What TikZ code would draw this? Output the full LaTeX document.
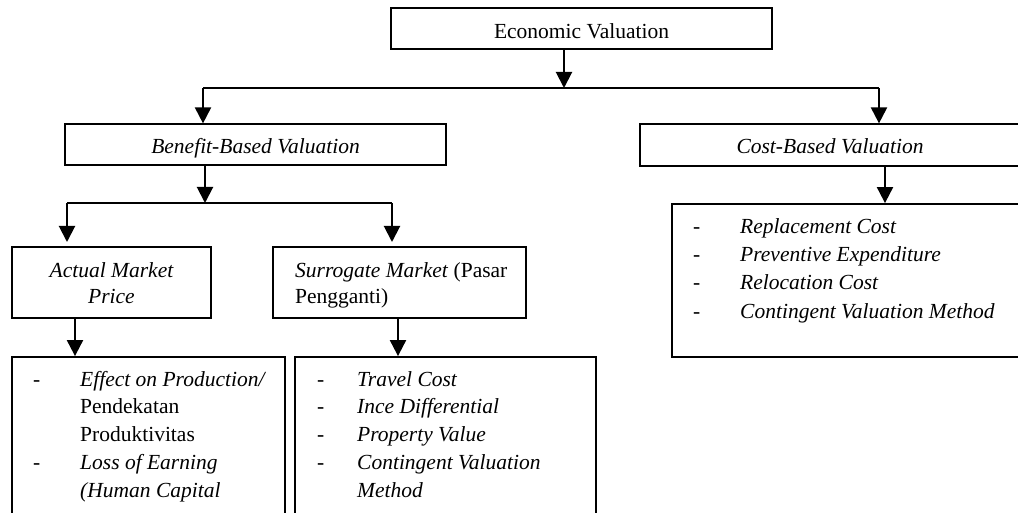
\documentclass[tikz,border=0pt]{standalone}
\usepackage{fontspec}
\setmainfont{Liberation Serif}
\usetikzlibrary{arrows.meta}
\begin{document}
\begin{tikzpicture}[x=1pt,y=-1pt,
  box/.style={draw,rectangle,inner sep=0pt,line width=1.2pt},
  boxb/.style={draw,rectangle,inner sep=0pt,line width=1.8pt},
  txt/.style={inner sep=0pt,font=\fontsize{21.5}{28}\selectfont},
  conn/.style={line width=2pt},
  arr/.style={conn,-{Triangle[width=16pt,length=16pt]}}]
\useasboundingbox (0,0) rectangle (1018,513);
\clip (0,0) rectangle (1018,513);
% boxes
\node[box,minimum width=381pt,minimum height=41pt] (ev) at (581.5,28.5) {};
\node[box,minimum width=381pt,minimum height=41pt] (bb) at (255.5,144.5) {};
\node[box,minimum width=380pt,minimum height=42pt] (cb) at (830,145) {};
\node[boxb,minimum width=199pt,minimum height=71pt] (am) at (111.5,282.5) {};
\node[boxb,minimum width=253pt,minimum height=71pt] (sm) at (399.5,282.5) {};
\node[boxb,minimum width=348pt,minimum height=153pt] (cl) at (846,280.5) {};
\node[boxb,minimum width=273pt,minimum height=173pt] (al) at (148.5,443.5) {};
\node[boxb,minimum width=301pt,minimum height=173pt] (sl) at (445.5,443.5) {};
% texts
\node[txt,anchor=base] (tev) at (581.5,39) {Economic Valuation};
\node[txt,anchor=base] (tbb) at (255.5,154) {\itshape Benefit-Based Valuation};
\node[txt,anchor=base] (tcb) at (830,154) {\itshape Cost-Based Valuation};
\node[txt,anchor=base] (tam1) at (111.5,278) {\itshape Actual Market};
\node[txt,anchor=base] (tam2) at (111.5,303) {\itshape Price};
\node[txt,anchor=base west] (tsm1) at (295,278) {\textit{Surrogate Market} (Pasar};
\node[txt,anchor=base west] (tsm2) at (295,303) {Pengganti)};
% cost list
\node[txt,anchor=base west] (cd1) at (693,234) {-};
\node[txt,anchor=base west] (cd2) at (693,262) {-};
\node[txt,anchor=base west] (cd3) at (693,290) {-};
\node[txt,anchor=base west] (cd4) at (693,318) {-};
\node[txt,anchor=base west] (ct1) at (740,234) {\itshape Replacement Cost};
\node[txt,anchor=base west] (ct2) at (740,262) {\itshape Preventive Expenditure};
\node[txt,anchor=base west] (ct3) at (740,290) {\itshape Relocation Cost};
\node[txt,anchor=base west] (ct4) at (740,318) {\itshape Contingent Valuation Method};
% actual list
\node[txt,anchor=base west] (ad1) at (33,386) {-};
\node[txt,anchor=base west] (ad2) at (33,469) {-};
\node[txt,anchor=base west] (at1) at (80,386) {\itshape Effect on Production/};
\node[txt,anchor=base west] (at2) at (80,413.7) {Pendekatan};
\node[txt,anchor=base west] (at3) at (80,441.4) {Produktivitas};
\node[txt,anchor=base west] (at4) at (80,469) {\itshape Loss of Earning};
\node[txt,anchor=base west] (at5) at (80,497) {\itshape (Human Capital};
% surrogate list
\node[txt,anchor=base west] (sd1) at (317,386) {-};
\node[txt,anchor=base west] (sd2) at (317,413.7) {-};
\node[txt,anchor=base west] (sd3) at (317,441.4) {-};
\node[txt,anchor=base west] (sd4) at (317,469) {-};
\node[txt,anchor=base west] (st1) at (357,386) {\itshape Travel Cost};
\node[txt,anchor=base west] (st2) at (357,413.7) {\itshape Ince Differential};
\node[txt,anchor=base west] (st3) at (357,441.4) {\itshape Property Value};
\node[txt,anchor=base west] (st4) at (357,469) {\itshape Contingent Valuation};
\node[txt,anchor=base west] (st5) at (357,497) {\itshape Method};
% connector coordinates
\coordinate (j1) at (564,88);
\coordinate (b1L) at (203,88);
\coordinate (b1R) at (879,88);
\coordinate (j2) at (205,203);
\coordinate (b2L) at (67,203);
\coordinate (b2R) at (392,203);
\coordinate (t2L) at (67,242);
\coordinate (t2R) at (392,242);
\coordinate (x3) at (885,0);
\coordinate (x4) at (75,0);
\coordinate (x5) at (398,0);
% connectors
\draw[arr] (ev.south -| j1) -- (j1);
\draw[conn] (b1L) -- (b1R);
\draw[arr] (b1L) -- (b1L |- bb.north);
\draw[arr] (b1R) -- (b1R |- cb.north);
\draw[arr] (bb.south -| j2) -- (j2);
\draw[conn] (b2L) -- (b2R);
\draw[arr] (b2L) -- (t2L);
\draw[arr] (b2R) -- (t2R);
\draw[arr] (cb.south -| x3) -- (cl.north -| x3);
\draw[arr] (am.south -| x4) -- (al.north -| x4);
\draw[arr] (sm.south -| x5) -- (sl.north -| x5);
\end{tikzpicture}
\end{document}
